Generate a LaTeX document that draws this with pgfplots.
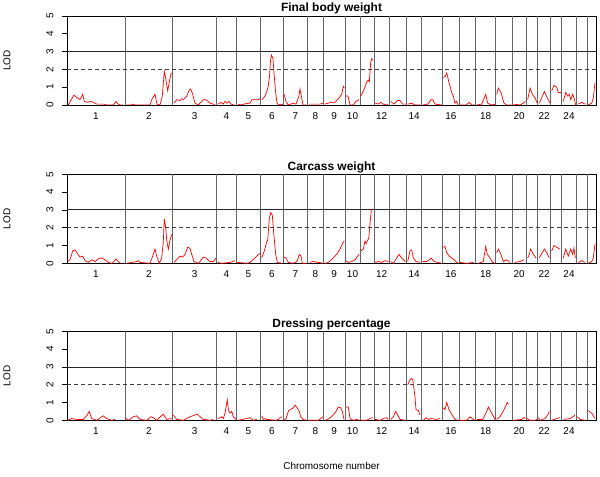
\documentclass[border=0pt]{standalone}
\usepackage{pgfplots}
\pgfplotsset{compat=1.18}
\usepackage{fontspec}
\setmainfont{Liberation Sans}
\begin{document}
\begin{tikzpicture}
\path[use as bounding box] (0,0) rectangle (600bp,477bp);
\pgfplotsset{
 lodpanel/.style={
  anchor=south west, width=529bp, height=89bp, scale only axis,
  xmin=67, xmax=596, ymin=0, ymax=5,
  ytick={0,1,2,3,4,5}, ytick pos=left,
  xtick={96,148.85,194.7,226.5,248.5,272,295.3,315.3,334.15,352.5,381.65,414.2,450.85,485.7,519.15,544.2,569},
  xticklabels={1,2,3,4,5,6,7,8,9,10,12,14,16,18,20,22,24},
  x tick style={draw=none},
  ytick align=outside, major tick length=5bp,
  y tick style={black, line width=0.6bp},
  yticklabel style={xshift=-5bp, rotate=90, anchor=south},
  xticklabel style={yshift=-4bp},
  tick label style={font=\fontsize{10}{12}\selectfont},
  /pgf/number format/assume math mode=true,
  title style={font=\bfseries\fontsize{12}{14}\selectfont, at={(0.5,1)}, anchor=base, yshift=-1.7bp},
  ylabel=LOD,
  every axis y label/.style={at={(axis description cs:-0.1134,0.5)}, rotate=90, anchor=center, font=\fontsize{10}{12}\selectfont},
  unbounded coords=jump,
  axis line style={black, line width=0.7bp},
  extra x ticks={125,172.7,216.7,236.3,260.7,283.3,307.3,323.3,345,360,374,389.3,406.7,421.7,442.7,459,475.7,495.7,512.3,526,537.7,550.7,561.7,576.3,587.3},
  extra x tick labels={},
  extra x tick style={grid=major},
  major grid style={black!60, line width=1bp},
 },
 lodcurve/.style={red, line width=0.7bp},
}
% ---------- Final body weight ----------
\begin{axis}[lodpanel, at={(67bp,372bp)}, title={Final body weight}]
\draw[black!85, line width=0.8bp] (axis cs:67,3) -- (axis cs:596,3);
\draw[black!75, line width=0.8bp, dash pattern=on 4bp off 3bp] (axis cs:67,2) -- (axis cs:596,2);
\addplot[lodcurve] table {
x y
68.3 0
71.7 0.35
74 0.55
77.3 0.4
80 0.3
82.7 0.6
84.3 0.2
87.3 0.15
90.7 0.2
93.3 0.15
96.7 0.05
103.3 0.05
106.7 0
113.3 0
116 0.2
118.3 0.05
120 0
123 0
125 nan
126.7 0
131 0
133 0.05
135 0
150 0
151.7 0.3
155 0.6
157 0.05
160 0
162.3 0.5
164.3 1.9
165.7 1.5
167.7 0.8
169.3 1.3
171 1.75
172.3 1.8
172.7 nan
174 0.1
176.7 0.3
180 0.25
181.7 0.35
183.3 0.3
186.7 0.5
189.3 0.85
190.7 0.9
192.7 0.6
195 0.1
198.3 0
200 0.1
203.3 0.3
206 0.3
210 0.1
213.3 0.05
215 0
216.7 nan
218 0.05
221 0.15
223 0.05
225 0.2
227 0.1
229 0.2
231 0.05
234 0
236.3 nan
238 0.05
241 0
244 0.05
248 0.1
250 0.1
252 0.3
255 0.3
258 0.3
260 0.35
260.7 nan
262 0.3
265 0.5
267 0.8
268 1.0
269.5 1.6
270.5 2.5
271.5 2.8
273 2.6
274 1.8
275.5 0.8
277 0.1
279 0
281 0.05
283 0
283.3 nan
284 0.6
286 0.2
288.3 0
293 0.1
296 0.05
299 0.5
300 0.9
302 0.3
303 0
306 0
307.3 nan
309 0.05
315 0.05
320 0.05
323 0.1
323.3 nan
324.7 0.05
331.7 0.15
335 0.15
338.3 0.35
341.7 0.6
343.3 1.05
344.3 0.95
345 nan
346 0.5
348 0.5
350 0
353 0
356 0.2
359 0.3
360 nan
361 0.5
363.3 0.8
365.7 1.1
366.7 1.3
368.3 1.4
369.3 1.3
370.7 2.4
371.7 2.6
372.7 2.5
374 nan
375.3 0.1
378 0.05
380.7 0.15
383 0.05
386 0
388 0.05
389.3 nan
391 0.2
394 0.05
397.3 0.25
400 0.25
402.7 0.05
406 0.05
406.7 nan
408 0.05
411.7 0.1
415 0
420 0
421.7 nan
423 0
427.7 0.05
431 0.3
432.7 0.3
435 0.05
441.7 0
442.7 nan
443.3 1.55
445 1.6
446.7 1.8
449.3 1.2
451.7 0.7
453.3 0.5
455 0.1
456.7 0.2
458 0
459 nan
460 0
466 0
469.3 0.15
471.7 0
475 0
475.7 nan
477 0
481.7 0.05
485.7 0.6
487.7 0.1
491.7 0
495 0.05
495.7 nan
496.7 0.6
498.3 0.95
501 0.7
504 0.1
506.7 0
511.7 0
512.3 nan
513.3 0.05
520 0
523.3 0.1
525.3 0.2
526 nan
527.7 0.3
530 0.95
532.3 0.6
535 0.4
537.3 0.1
537.7 nan
539.3 0.1
544.3 0.75
548.3 0.3
550 0.1
550.7 nan
551.7 0.8
554 1.1
556.7 1.0
558.3 0.7
561 0.7
561.7 nan
563.3 0.2
565.7 0.7
567.7 0.5
569.3 0.6
570.7 0.3
572.7 0.6
574 0.4
575.7 0
576.3 nan
578.3 0.05
581.7 0.15
585 0.05
587.3 nan
588.3 0
591.7 0.1
593.3 0.4
595 1.25
};
\end{axis}
% ---------- Carcass weight ----------
\begin{axis}[lodpanel, at={(67bp,213.7bp)}, title={Carcass weight}]
\draw[black!85, line width=0.8bp] (axis cs:67,3) -- (axis cs:596,3);
\draw[black!75, line width=0.8bp, dash pattern=on 4bp off 3bp] (axis cs:67,2) -- (axis cs:596,2);
\addplot[lodcurve] table {
x y
67.7 0.1
70 0.2
72.7 0.7
75 0.75
77.3 0.55
80 0.35
82.7 0.4
85 0.15
88.3 0.05
91.7 0.2
95 0.1
98.3 0.25
101.7 0.3
105 0.2
108.3 0.05
111.7 0
113.3 0.05
116 0.25
118.3 0.1
120.7 0
125 nan
126.7 0
136.7 0.1
138.3 0.15
140 0.05
150 0
152.7 0.4
155 0.8
156.7 0.4
159.3 0
161.7 0.3
163.3 1.2
164.3 2.5
165.7 2.0
166.7 1.3
168.3 0.8
170 1.3
171.7 1.6
172.3 1.6
172.7 nan
174 0.05
178.3 0.3
180 0.4
182.7 0.35
185 0.5
187.7 0.9
190 0.85
191.7 0.5
194 0.1
198.3 0
200 0.1
203.3 0.35
206 0.3
210 0.1
213.3 0.1
216 0.3
216.7 nan
218 0.05
221.7 0
230 0.05
235 0.15
236.3 nan
237.3 0.05
246.7 0
250 0.05
255 0.3
258.3 0.5
260 0.55
260.7 nan
261.7 0.3
264.3 0.7
266.7 1.2
267.7 1.3
269.3 2.5
270.7 2.85
272.3 2.7
274 1.5
275.7 0.5
277.3 0.05
281.7 0
283.3 nan
284 0.35
286 0.3
288.3 0.05
293.3 0
297 0.1
299.3 0.5
301 0.4
302.3 0
306 0
307.3 nan
310 0.05
313.3 0.1
318.3 0.05
322.7 0
323.3 nan
325 0
328.3 0.05
333.3 0.3
337.3 0.55
340 0.8
343.3 1.2
344.3 1.25
345 nan
346 0.15
348.3 0.05
351.7 0.1
355 0.2
358.3 0.45
359.3 0.5
360 nan
361 0.7
363.3 0.8
365 1.25
366 1.1
367.7 1.3
368.7 1.4
370 2.2
371.3 3.0
372.7 3.05
374 nan
375 0.05
378.3 0.1
381.7 0.05
385 0.15
388.3 0.1
389.3 nan
390.7 0.1
393.3 0
396.7 0.3
399 0.5
401.7 0.3
405 0.1
406.7 nan
407.7 0.1
410 0.7
411.7 0.75
413.3 0.3
416 0.1
420 0.05
421.7 nan
422.7 0.1
426.7 0.1
429.3 0.2
431 0.3
434 0.1
441.7 0
442.7 nan
443.3 0.9
445 0.95
446.7 0.6
449.3 0.4
451.7 0.3
454 0.2
456.7 0.05
458.3 0
459 nan
460 0.05
466.7 0
473.3 0.05
475.7 nan
478.3 0
483.3 0.1
485.7 0.95
487.3 0.5
490 0.3
492.7 0.05
495 0
495.7 nan
496.7 0.6
498.3 0.8
501 0.5
503.3 0.1
506.7 0.2
510 0.05
512.3 nan
515 0.05
520 0.1
524 0.2
526 nan
527.7 0.3
529.3 0.5
530.7 0.8
533.3 0.5
536 0.3
537.7 nan
539.3 0.3
544.3 0.8
546.7 0.6
549.3 0.3
550.7 nan
551.7 0.7
554 1.0
556.7 0.9
560 0.8
561.7 nan
563.3 0.3
565.7 0.8
568.3 0.4
570.7 0.8
572.7 0.5
574 0.85
575.3 0.3
576.3 nan
578.3 0.05
581.7 0.15
585 0.05
587.3 nan
588.3 0
591.7 0.1
593.3 0.3
595 1.1
};
\end{axis}
% ---------- Dressing percentage ----------
\begin{axis}[lodpanel, at={(67bp,56.7bp)}, title={Dressing percentage},
  xlabel={Chromosome number},
  every axis x label/.style={at={(axis description cs:0.5,-0.517)}, anchor=center, font=\fontsize{10}{12}\selectfont}]
\draw[black!85, line width=0.8bp] (axis cs:67,3) -- (axis cs:596,3);
\draw[black!75, line width=0.8bp, dash pattern=on 4bp off 3bp] (axis cs:67,2) -- (axis cs:596,2);
\addplot[lodcurve] table {
x y
67.7 0
71.7 0.1
76.7 0.05
83.3 0.05
87.3 0.3
89.3 0.5
91.7 0.1
96.7 0
101.7 0.2
103.3 0.25
106.7 0.1
111.7 0
115 0.05
125 nan
126 0.1
128.3 0
133.3 0.2
136.7 0.25
140 0.05
146.7 0
150.7 0.2
153.3 0.15
156.7 0
163.3 0.35
166.7 0.05
171.7 0.1
172.7 nan
173.3 0.3
176.7 0.05
183.3 0
190 0.2
195 0.3
197.3 0.35
200 0.2
203.3 0.05
210 0
213.3 0.05
216.7 nan
218.3 0.1
221.7 0.2
223.3 0.1
225 0.4
227.3 1.15
228.3 0.6
230 0.4
231.7 0.5
233.3 0.2
235.7 0.05
236.3 nan
238.3 0
246.7 0.1
250 0.15
253.3 0
256.7 0.05
260.7 nan
261.7 0.25
263.3 0.05
265 0.1
266.7 0.05
276.7 0
281.7 0.2
283.3 nan
284 0
286 0.1
288.7 0.55
291.7 0.65
293.3 0.7
295 0.85
297.7 0.65
299.3 0.5
300.7 0.2
303 0.05
306 0
307.3 nan
308.3 0
318.3 0
320.7 0.1
322.7 0.2
323.3 nan
325 0
329.3 0.1
333.3 0.3
336 0.5
338.3 0.75
340.7 0.7
342.3 0.5
344 0.05
345 nan
345.7 0.75
348.3 0.75
350 0.1
353.3 0
356.7 0.05
359.3 0
360 nan
361.7 0
366.7 0
370 0.1
372.7 0.15
374 nan
375 0.05
380 0
383.3 0.1
386 0.15
388.3 0.05
389.3 nan
390.7 0.05
393.3 0.2
395.7 0.5
397.7 0.3
400 0.05
405 0
406.7 nan
407.7 2.0
409.3 2.2
411 2.35
412.7 2.3
415 1.3
416 0.6
418.3 0.55
420 0.3
421.7 nan
423.3 0
426 0.15
428.3 0.05
431.7 0.1
436.7 0.05
440 0.1
442.7 nan
443.3 0.7
445 0.6
446.7 1.0
449 0.6
451 0.4
453.3 0.2
455 0.05
458 0
459 nan
460 0
466.7 0
470 0.2
473.3 0.05
475 0
475.7 nan
477 0.05
482.7 0.05
486.7 0.5
488.3 0.75
490.7 0.5
492.7 0.3
495 0.05
495.7 nan
496.7 0.05
500 0.2
504 0.6
507.3 1.0
508.3 0.9
512.3 nan
513.3 0
521.7 0.05
524 0.15
525.3 0.1
526 nan
527 0.1
530 0
535 0
536.7 0.05
537.7 nan
538.3 0.15
540 0
545 0.1
547.7 0.3
549.3 0.5
550.7 nan
551.7 0
556.7 0.1
560 0.15
561.7 nan
563.3 0.05
570 0.1
573 0.2
575 0.3
576.3 nan
577.3 0.2
580 0.05
585 0
587.3 nan
588.3 0.55
591.7 0.4
595 0.1
};
\end{axis}
\end{tikzpicture}
\end{document}
